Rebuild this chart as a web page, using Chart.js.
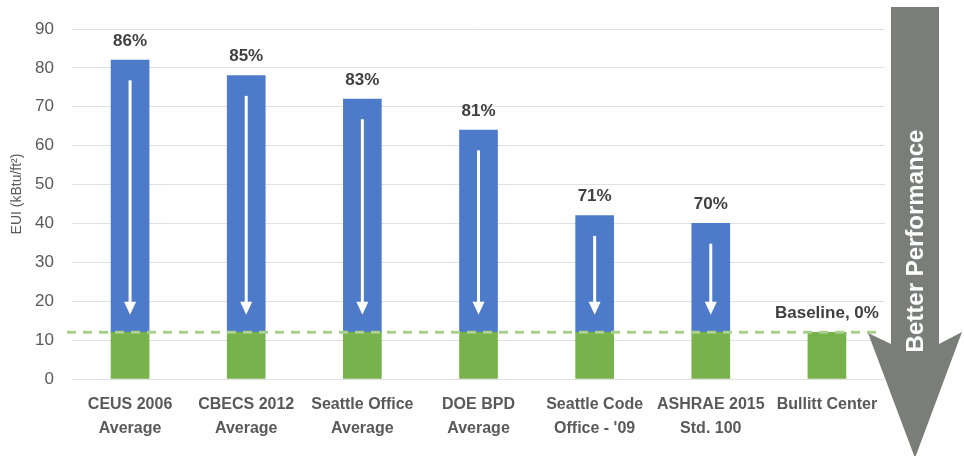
<!DOCTYPE html>
<html>
<head>
<meta charset="utf-8">
<script src="https://cdn.jsdelivr.net/npm/chart.js@4/dist/chart.umd.min.js"></script>
<style>
  html, body { margin: 0; padding: 0; background: #fff; }
  #wrap { width: 964px; height: 456px; position: relative; }
</style>
</head>
<body>
<div id="wrap"><canvas id="eui" width="964" height="456"></canvas></div>
<script>
// categories (two-line labels)
const categories = [
    ["CEUS 2006", "Average"],
    ["CBECS 2012", "Average"],
    ["Seattle Office", "Average"],
    ["DOE BPD", "Average"],
    ["Seattle Code", "Office - '09"],
    ["ASHRAE 2015", "Std. 100"],
    ["Bullitt Center"]
];
// total EUI of each building type
const totalEui = [82, 78, 72, 64, 42, 40, 12];
// Bullitt Center level (green part of each bar)
const baselineEui = [12, 12, 12, 12, 12, 12, 12];
// labels above the bars
const savingLabels = ["86%", "85%", "83%", "81%", "71%", "70%", "Baseline, 0%"];
const yTicks = [0, 10, 20, 30, 40, 50, 60, 70, 80, 90];

const aboveBaseline = totalEui.map((v, i) => v - baselineEui[i]);

const FONT = "'Liberation Sans', Arial, sans-serif";
const context = document.getElementById("eui").getContext("2d");

// labels, inner arrows, baseline dash, big arrow
const extras = {
    id: "extras",
    afterDatasetsDraw(chart) {
        const ctx = chart.ctx;
        const x = chart.scales.x;
        const y = chart.scales.y;
        const base = baselineEui[0];

        // dashed baseline
        ctx.save();
        ctx.strokeStyle = "#a9d18e";
        ctx.lineWidth = 3;
        ctx.setLineDash([9, 7]);
        ctx.beginPath();
        ctx.moveTo(x.left - 5, y.getPixelForValue(base));
        ctx.lineTo(x.right - 5, y.getPixelForValue(base));
        ctx.stroke();
        ctx.restore();

        // white arrows inside the blue bars
        ctx.save();
        ctx.fillStyle = "#ffffff";
        ctx.strokeStyle = "#ffffff";
        totalEui.forEach((v, i) => {
            if (v - baselineEui[i] < 10) return;
            const cx = x.getPixelForValue(i);
            const y0 = y.getPixelForValue(v - 5.2);
            const y1 = y.getPixelForValue(16.5);
            ctx.lineWidth = 3;
            ctx.beginPath();
            ctx.moveTo(cx, y0);
            ctx.lineTo(cx, y1 - 10);
            ctx.stroke();
            ctx.beginPath();
            ctx.moveTo(cx - 6, y1 - 13);
            ctx.lineTo(cx + 6, y1 - 13);
            ctx.lineTo(cx, y1);
            ctx.closePath();
            ctx.fill();
        });
        ctx.restore();

        // labels above bars
        ctx.save();
        ctx.fillStyle = "#404040";
        ctx.font = "bold 17px " + FONT;
        ctx.textAlign = "center";
        ctx.textBaseline = "middle";
        totalEui.forEach((v, i) => {
            ctx.fillText(savingLabels[i], x.getPixelForValue(i), y.getPixelForValue(v) - 19);
        });
        ctx.restore();

        // y axis title
        ctx.save();
        ctx.fillStyle = "#595959";
        ctx.font = "14px " + FONT;
        ctx.translate(17, 194);
        ctx.rotate(-Math.PI / 2);
        ctx.textAlign = "center";
        ctx.textBaseline = "middle";
        ctx.fillText("EUI (kBtu/ft\u00b2)", 0, 0);
        ctx.restore();

        // big "Better Performance" arrow
        ctx.save();
        ctx.fillStyle = "#7b7e78";
        ctx.beginPath();
        ctx.moveTo(891, 7);
        ctx.lineTo(939, 7);
        ctx.lineTo(939, 344);
        ctx.lineTo(962, 332);
        ctx.lineTo(915, 458);
        ctx.lineTo(868, 333);
        ctx.lineTo(891, 344);
        ctx.closePath();
        ctx.fill();
        ctx.fillStyle = "#ffffff";
        ctx.font = "bold 24px " + FONT;
        ctx.translate(916, 241);
        ctx.rotate(-Math.PI / 2);
        ctx.textAlign = "center";
        ctx.textBaseline = "middle";
        ctx.fillText("Better Performance", 0, 0);
        ctx.restore();
    }
};

const chart = new Chart(context, {
    type: "bar",
    data: {
        labels: categories,
        datasets: [{
            label: "Baseline",
            data: baselineEui,
            backgroundColor: "#78b24c",
            barThickness: 38
        }, {
            label: "Above baseline",
            data: aboveBaseline,
            backgroundColor: "#4e7bc9",
            barThickness: 38
        }]
    },
    options: {
        responsive: false,
        animation: false,
        devicePixelRatio: 1,
        layout: { padding: { left: 0, right: 79, top: 29, bottom: 0 } },
        plugins: { legend: { display: false }, tooltip: { enabled: false } },
        scales: {
            x: {
                stacked: true,
                grid: { display: false },
                border: { display: false },
                ticks: {
                    color: "#595959",
                    font: { family: FONT, size: 16, weight: "bold", lineHeight: 1.5 },
                    padding: 6,
                    maxRotation: 0,
                    autoSkip: false
                },
                afterFit(s) { s.height = 77; }
            },
            y: {
                stacked: true,
                min: 0,
                max: 90,
                afterBuildTicks(s) { s.ticks = yTicks.map(v => ({ value: v })); },
                grid: { color: "#e0e0e0", drawTicks: false },
                border: { display: false },
                ticks: {
                    color: "#595959",
                    font: { family: FONT, size: 17 },
                    padding: 18
                },
                afterFit(s) { s.width = 72; }
            }
        }
    },
    plugins: [extras]
});
</script>
</body>
</html>
